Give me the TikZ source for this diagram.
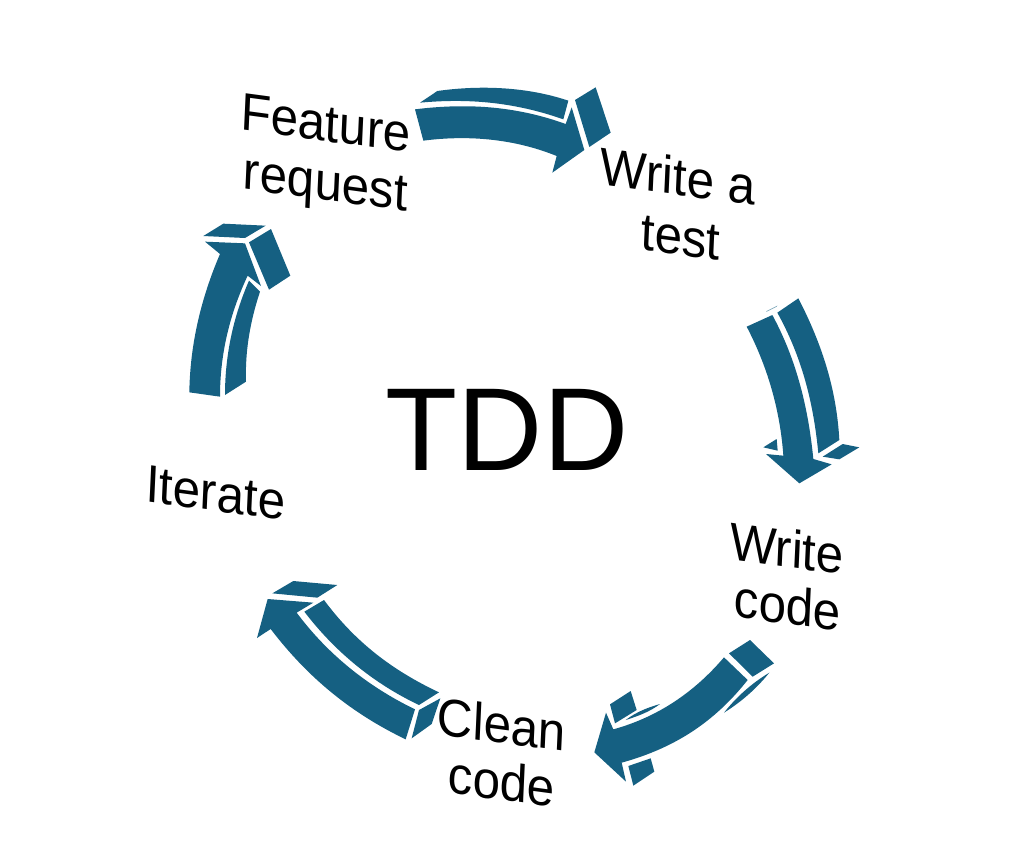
\documentclass[tikz,border=0pt]{standalone}
\usepackage{fontspec}
\setmainfont{Liberation Sans}
\definecolor{arrowblue}{HTML}{156082}
\tikzset{
  piece/.style={fill=arrowblue,draw=none},
  zoomed/.style={x=0.33333pt,y=-0.33333pt},
  lab/.style={cm={1.025,-0.138,0.05,1.1,(0,0)},inner sep=0pt,anchor=base,font=\fontsize{48}{48}\selectfont,text=black},
}
\begin{document}
\begin{tikzpicture}[x=1pt,y=-1pt]
\useasboundingbox (0,0) rectangle (1028,852);
% arrow 1: feature request -> write a test
\begin{scope}[shift={(400,70)},zoomed]
\path[piece] (45,118) .. controls (190,100) and (340,105) .. (497,162) -- (515,112) -- (553,240) -- (457,308) -- (470,258) .. controls (340,205) and (200,195) .. (70,212) -- cycle;
\path[piece] (60,98) -- (112,63) .. controls (240,45) and (380,50) .. (505,92) -- (490,148) .. controls (340,95) and (200,85) .. (60,98) -- cycle;
\path[piece] (525,90) -- (587,52) -- (632,188) -- (568,231) -- cycle;
\end{scope}
% arrow 2: write a test -> write code
\begin{scope}[shift={(730,285)},zoomed]
\path[piece] (50,125) -- (127,90) .. controls (200,225) and (235,370) .. (250,522) -- (305,538) -- (208,595) -- (108,507) -- (160,512) .. controls (150,370) and (110,240) .. (50,125) -- cycle;
\path[piece] (142,83) -- (205,40) .. controls (280,185) and (320,320) .. (328,465) -- (265,505) .. controls (250,350) and (215,215) .. (142,83) -- cycle;
\path[piece] (100,487) -- (140,462) -- (143,497) -- cycle;
\path[piece] (278,515) -- (338,477) -- (388,487) -- (328,523) -- cycle;
\path[fill=arrowblue!55] (108,79) -- (142,62) -- (140,65) -- (110,80) -- cycle;
\end{scope}
% arrow 3: write code -> clean code
\begin{scope}[shift={(580,630)},zoomed]
\path[piece] (432,82) -- (503,150) .. controls (400,280) and (280,355) .. (125,398) -- (138,455) -- (43,367) -- (78,248) -- (100,298) .. controls (230,262) and (340,190) .. (432,82) -- cycle;
\path[piece] (447,70) -- (510,30) -- (582,100) -- (518,140) -- cycle;
\path[piece] (90,223) -- (152,183) -- (170,240) -- (105,280) -- cycle;
\path[piece] (137,270) .. controls (170,245) and (205,232) .. (240,222) .. controls (210,245) and (175,258) .. (137,270) -- cycle;
\path[piece] (432,248) .. controls (470,200) and (515,160) .. (568,128) .. controls (530,175) and (485,215) .. (432,248) -- cycle;
\path[piece] (145,408) -- (212,385) -- (223,425) -- (160,467) -- cycle;
\end{scope}
% arrow 4: clean code -> iterate
\begin{scope}[shift={(245,570)},zoomed]
\path[piece] (68,87) -- (205,98) -- (155,128) .. controls (250,255) and (370,350) .. (510,418) -- (482,508) .. controls (320,430) and (190,325) .. (77,177) -- (36,204) -- cycle;
\path[piece] (237,90) .. controls (330,215) and (440,300) .. (582,367) -- (522,405) .. controls (385,340) and (270,245) .. (178,125) -- cycle;
\path[piece] (82,70) -- (145,33) -- (277,45) -- (217,83) -- cycle;
\path[piece] (522,420) -- (586,385) -- (560,462) -- (500,505) -- cycle;
\end{scope}
% arrow 5: iterate -> feature request
\begin{scope}[shift={(175,210)},zoomed]
\path[piece] (90,95) -- (210,100) -- (258,228) -- (218,197) .. controls (165,310) and (135,430) .. (135,560) -- (43,547) .. controls (45,400) and (80,260) .. (135,132) -- cycle;
\path[piece] (222,212) -- (255,245) .. controls (225,335) and (210,425) .. (213,515) -- (150,555) .. controls (150,435) and (175,320) .. (222,212) -- cycle;
\path[piece] (85,78) -- (145,41) -- (272,47) -- (210,84) -- cycle;
\path[piece] (222,97) -- (288,57) -- (346,197) -- (282,239) -- cycle;
\end{scope}
% labels
\node[lab] (feature) at (325,141) {Feature};
\node[lab] (request) at (325,200) {request};
\node[lab] (writea) at (677,195) {Write a};
\node[lab] (test) at (680,255) {test};
\node[lab] (write) at (786,567) {Write};
\node[lab] (codea) at (787,624) {code};
\node[lab] (clean) at (501,743) {Clean};
\node[lab] (codeb) at (501,800) {code};
\node[lab] (iterate) at (215,511) {Iterate};
\node[inner sep=0pt,anchor=base,font=\fontsize{118}{118}\selectfont] (tdd) at (507,470) {TDD};
\end{tikzpicture}
\end{document}
